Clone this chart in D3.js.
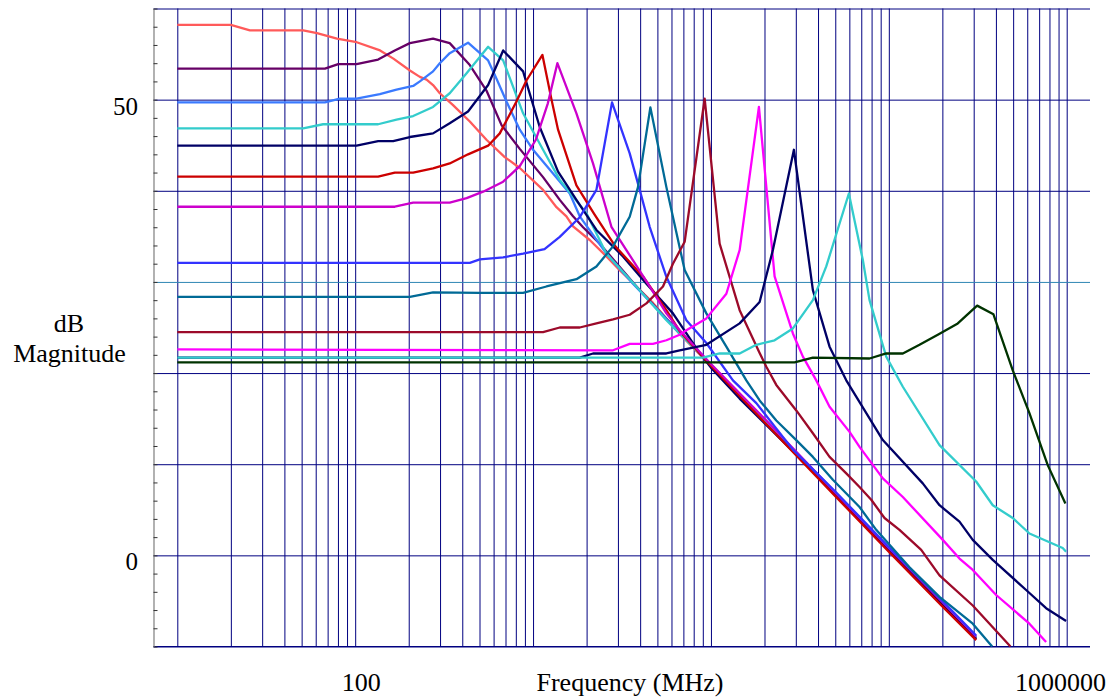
<!DOCTYPE html>
<html><head><meta charset="utf-8">
<script src="https://cdn.jsdelivr.net/npm/d3@7/dist/d3.min.js"></script>
<style>
body{margin:0;background:#fff;}
text{font-family:"Liberation Serif","Times New Roman",serif;fill:#000;}
</style>
</head><body>
<svg id="c" width="1109" height="698"></svg>
<script>
// ---------- data ----------
const xTickLabels = [100, 1000000];
const yTickLabels = [0, 50];
const xTitle = "Frequency (MHz)";
const yTitle = ["dB", "Magnitude"];

// each series: [frequency (MHz), magnitude (dB)]
const sSalmon = [[10,58.2],[20,58.2],[25.6,57.6],[51,57.6],[61,57.3],[79,56.7],[102,56.3],[138,55.4],[164,54.5],[203,53.2],[231,52.5],[252,52.2],[274,51.6],[299,50.7],[355,49.4],[441,47.6],[547,45.6],[693,43.7],[842,42.5],[1138,40.1],[1354,38.2],[1540,37.2],[1678,36.1],[2082,34.6],[2585,32.8],[3070,31.3],[3810,29.5],[4723,27.7],[6672,24.3],[10000,20.8],[20000,14.7],[50000,6.7],[100000,0.6],[200000,-5.4],[309700,-9.2]];
const sPurple = [[10,53.4],[67.6,53.4],[80.3,53.9],[101.8,53.9],[134.6,54.4],[167,55.4],[203,56.2],[274,56.7],[340,56.2],[441,53.8],[547,51.0],[665,47.2],[842,44.6],[1138,41.5],[1413,39.0],[1678,37.2],[1910,36.0],[2370,34.2],[3976,29.1],[6672,24.4],[10000,20.9],[20000,14.8],[50000,6.8],[100000,0.7],[200000,-5.3],[309700,-9.1]];
const sBlueA = [[10,49.7],[67.6,49.7],[82,50.1],[101.8,50.1],[137.6,50.6],[170.8,51.1],[211.8,51.5],[231,52.0],[274,53.1],[299,54.0],[340,55.1],[431,56.25],[559,54.3],[623,52.3],[709,49.8],[842,46.7],[1000,44.5],[1295,41.9],[1608,39.7],[1830,37.2],[2585,33.1],[3646,29.8],[6672,24.4],[10000,20.9],[20000,14.9],[50000,6.9],[100000,0.8],[200000,-5.2],[309700,-9.0]];
const sTurqA = [[10,46.85],[51,46.85],[66,47.3],[134.6,47.3],[170.8,47.8],[211.8,48.2],[274,49.2],[340,50.7],[423,52.9],[559,55.8],[679,54.3],[879,48.5],[1138,44.5],[1413,41.2],[2000,37.5],[2585,33.1],[3810,29.5],[5617,25.8],[10000,20.9],[20000,14.8],[50000,6.8],[100000,0.8],[200000,-5.2],[309700,-9.0]];
const sNavyA = [[10,44.95],[101.8,44.95],[134.6,45.45],[163.5,45.45],[202.9,45.9],[274,46.3],[340,47.4],[431,48.7],[559,51.6],[679,55.4],[879,53.1],[1090,47.0],[1382,42.1],[1753,39.0],[2271,35.7],[3203,32.8],[4337,29.8],[6114,26.55],[8500,22.4],[10000,20.6],[14500,17.2],[20000,14.5],[30000,11.1],[50000,6.7],[100000,0.6],[200000,-5.4],[309700,-9.2]];
const sRed = [[10,41.55],[134.6,41.55],[167,42.0],[211.8,42.0],[274,42.45],[340,43.0],[431,44.0],[559,44.95],[650,46.3],[807,49.8],[918,52.1],[1129,54.9],[1270,50.0],[1382,46.7],[1753,40.6],[2200,37.5],[2900,33.9],[4150,30.6],[5617,26.9],[6672,24.6],[10000,20.8],[20000,14.6],[50000,6.5],[100000,0.4],[200000,-5.6],[309700,-9.3]];
const sViolet = [[10,38.25],[167,38.25],[211.8,38.7],[340,38.7],[423,39.2],[524,39.9],[679,41.0],[842,42.7],[1037,45.6],[1211,49.6],[1370,54.0],[1753,48.5],[2173,43.0],[2757,36.05],[3347,33.5],[4524,29.5],[5617,26.55],[6672,24.7],[10000,21.0],[20000,15.0],[50000,6.9],[100000,0.8],[200000,-5.1],[309700,-8.9]];
const sBlueB = [[10,32.1],[441,32.1],[502,32.47],[679,32.7],[879,33.1],[1160,33.6],[1413,34.95],[1830,37.1],[2271,40.1],[2779,49.7],[3494,44.1],[3976,40.1],[4524,36.05],[5617,30.56],[7275,25.8],[9423,23.3],[13293,19.2],[17990,16.7],[28890,11.6],[50000,7.0],[100000,0.9],[200000,-5.0],[309700,-8.8]];
const sTeal = [[10,28.37],[203,28.37],[274,28.85],[502,28.8],[879,28.8],[1189,29.5],[1753,30.3],[2271,31.7],[2815,33.9],[3494,37.15],[3890,40.4],[4566,49.15],[5617,40.4],[7116,31.3],[9423,26.55],[12207,22.9],[15810,19.2],[18780,17.0],[23300,14.8],[30180,12.65],[37420,10.8],[48470,8.3],[68450,5.3],[84960,2.8],[130700,-1.3],[192700,-4.55],[296400,-7.5],[381000,-10.0]];
const sMaroon = [[10,24.5],[1138,24.5],[1413,25.0],[1830,25.0],[2271,25.45],[2815,25.9],[3494,26.4],[4337,27.65],[5375,29.5],[6114,32.0],[7116,34.4],[9218,50.1],[11192,34.2],[14500,26.9],[18780,22.2],[20480,20.7],[23300,18.7],[30180,15.9],[37420,13.4],[46440,10.8],[57650,9.0],[68450,7.5],[79640,6.1],[94580,4.1],[114800,2.8],[152100,0.6],[192700,-2.2],[296400,-5.5],[482800,-10.0]];
const sMagenta = [[10,22.6],[2815,22.5],[3494,23.2],[4723,23.2],[5617,23.6],[6672,24.2],[7275,24.7],[9423,26.0],[12207,28.7],[14500,33.5],[18610,49.2],[22800,30.6],[28890,24.35],[32880,21.8],[39100,19.2],[46440,16.3],[60150,13.55],[68450,11.9],[92530,8.45],[119900,6.4],[201100,1.7],[249600,-0.35],[296400,-1.6],[401300,-4.35],[617200,-7.5],[766100,-9.5]];
const sNavyB = [[10,21.7],[1830,21.7],[2173,22.15],[5617,22.15],[6672,22.5],[9423,23.1],[14500,25.45],[18780,27.8],[22300,33.5],[29270,44.5],[37420,29.1],[46440,22.9],[57650,19.2],[92530,12.65],[155200,7.9],[192700,5.5],[249600,3.7],[296400,1.7],[384000,-0.5],[591400,-3.8],[766100,-5.8],[992200,-7.2]];
const sTurqB = [[10,21.7],[9020,21.7],[11192,22.15],[14500,22.15],[17990,23.1],[22800,23.6],[28890,24.9],[37420,28.0],[44490,31.7],[59620,39.7],[71440,32.4],[77910,28.0],[96690,21.8],[119900,18.5],[192700,12.1],[309700,8.1],[384000,5.5],[497400,4.1],[617200,2.4],[949500,0.8],[992200,0.4]];
const sGreen = [[10,21.17],[29530,21.17],[37420,21.7],[77910,21.6],[96690,22.15],[119900,22.15],[148800,23.1],[188500,24.2],[244200,25.45],[313700,27.4],[387500,26.45],[497400,20.3],[617200,15.6],[782200,9.9],[983300,5.7]];

const seriesList = [sSalmon, sPurple, sBlueA, sTurqA, sNavyA, sRed, sViolet, sBlueB, sTeal, sMaroon, sMagenta, sNavyB, sTurqB, sGreen];
const seriesColors = ["#ff5a5a","#660066","#3a7aff","#33cccc","#000066","#cc0000","#cc00cc","#3333ff","#006a96","#9c0a2a","#ff00ff","#000066","#33cccc","#003300"];

// ---------- chart ----------
const W = 1109, H = 698;
const plotLeft = 153.5, plotRight = 1090, plotTop = 8.5, plotBottom = 646.5;
const svg = d3.select("#c");

const x = d3.scaleLog().domain([10, 1e6]).range([177.3, 1066.7]);
const y = d3.scaleLinear().domain([-10, 60]).range([plotBottom, plotTop]);

// vertical grid values 10..1e6 (1-9 per decade)
const vgrid = [];
for (let k = 1; k <= 5; k++) for (let m = 1; m <= 9; m++) vgrid.push(m * Math.pow(10, k));
vgrid.push(1e6);

// vertical grid
const gx = svg.append("g").attr("transform", `translate(0,${plotBottom})`)
  .call(d3.axisBottom(x).tickValues(vgrid).tickSizeInner(-(plotBottom - plotTop)).tickSizeOuter(0).tickFormat(""));
gx.select(".domain").remove();
gx.selectAll(".tick line").attr("stroke", "#000080").attr("stroke-width", 1);

// horizontal grid
const hvals = d3.range(-10, 61, 10);
const gy = svg.append("g").attr("transform", `translate(${plotLeft},0)`)
  .call(d3.axisLeft(y).tickValues(hvals).tickSizeInner(-(plotRight - plotLeft)).tickSizeOuter(0).tickFormat(""));
gy.select(".domain").remove();
gy.selectAll(".tick line").attr("stroke", d => d === 30 ? "#2f86b4" : "#000080").attr("stroke-width", 1);

// bottom axis line
svg.append("line").attr("x1", plotLeft).attr("x2", plotRight).attr("y1", plotBottom).attr("y2", plotBottom)
  .attr("stroke", "#000080").attr("stroke-width", 1.2);

// left axis with minor ticks
const gl = svg.append("g").attr("transform", `translate(${plotLeft},0)`)
  .call(d3.axisRight(y).tickValues(d3.range(-10, 61, 2)).tickSizeInner(4).tickSizeOuter(0).tickFormat(""));
gl.select(".domain").attr("stroke", "#888").attr("stroke-width", 1.3);
gl.selectAll(".tick line").attr("stroke", "#333").attr("stroke-width", 1);

// series
const line = d3.line().x(d => x(d[0])).y(d => y(d[1]));
svg.append("g").selectAll("path").data(seriesList).join("path")
  .attr("d", line).attr("fill", "none")
  .attr("stroke", (d, i) => seriesColors[i])
  .attr("stroke-width", 2.3).attr("stroke-linejoin", "round");

// tick labels
svg.append("g").selectAll("text").data(yTickLabels).join("text")
  .attr("x", 138).attr("y", d => y(d) + 15)
  .attr("text-anchor", "end").attr("font-size", 25).text(d => d);
svg.append("g").selectAll("text").data(xTickLabels).join("text")
  .attr("x", d => x(d) + 6).attr("y", 691)
  .attr("text-anchor", "middle").attr("font-size", 26).text(d => d)
  .each(function() {
    const bb = this.getBBox();
    const maxRight = W - 3;
    if (bb.x + bb.width > maxRight) {
      d3.select(this).attr("text-anchor", "end").attr("x", maxRight);
    }
  });

// titles
svg.append("text").attr("x", 630).attr("y", 691).attr("text-anchor", "middle").attr("font-size", 26).text(xTitle);
svg.append("text").attr("x", 69).attr("y", 332).attr("text-anchor", "middle").attr("font-size", 26).text(yTitle[0]);
svg.append("text").attr("x", 69.5).attr("y", 362).attr("text-anchor", "middle").attr("font-size", 26).text(yTitle[1]);
</script>
</body></html>
